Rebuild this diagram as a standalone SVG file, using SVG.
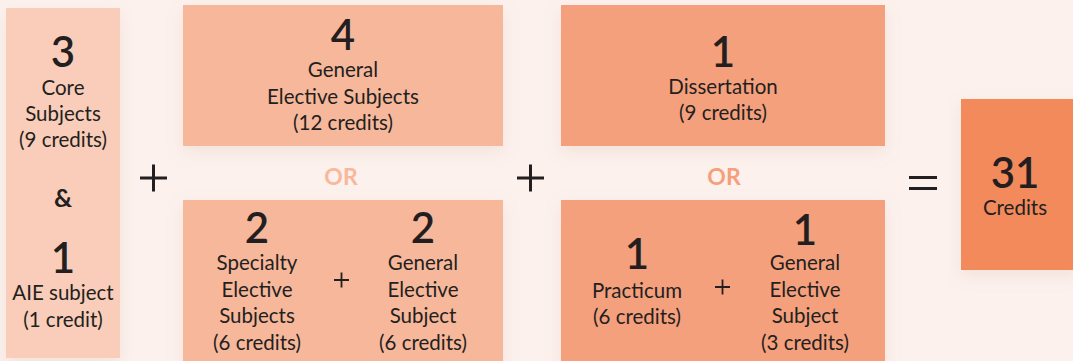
<svg xmlns="http://www.w3.org/2000/svg" width="1073" height="361" viewBox="0 0 1073 361">
<defs>
<filter id="sh" x="-10%" y="-10%" width="120%" height="130%">
<feDropShadow dx="0" dy="6" stdDeviation="8" flood-color="#c89a88" flood-opacity="0.18"/>
</filter>
</defs>
<style>
.t{font-family:Lato,"Noto Sans","Liberation Sans",sans-serif;font-size:20.5px;fill:#231f20;text-anchor:middle}
.n{font-family:Lato,"Noto Sans","Liberation Sans",sans-serif;font-size:42px;font-weight:600;fill:#231f20;text-anchor:middle}
.amp{font-family:Lato,"Noto Sans","Liberation Sans",sans-serif;font-size:25px;font-weight:700;fill:#231f20;text-anchor:middle}
.or{font-family:Lato,"Noto Sans","Liberation Sans",sans-serif;font-size:23px;font-weight:700;text-anchor:middle}
.op{stroke:#231f20;stroke-width:3;fill:none}
.ops{stroke:#231f20;stroke-width:1.8;fill:none}
</style>
<rect width="1073" height="361" fill="#fcf1ed"/>
<g id="core">
<rect x="6" y="8" width="114" height="350" fill="#f9cdb9" filter="url(#sh)"/>
<text class="n" x="63" y="67">3</text>
<text class="t" x="63" y="95">Core</text>
<text class="t" x="63" y="121">Subjects</text>
<text class="t" x="63" y="147">(9 credits)</text>
<text class="amp" x="63" y="207">&amp;</text>
<text class="n" x="63" y="273">1</text>
<text class="t" x="63" y="300">AIE subject</text>
<text class="t" x="63" y="327">(1 credit)</text>
</g>
<g id="elective-a">
<rect x="183" y="5" width="320" height="141" fill="#f7b79b" filter="url(#sh)"/>
<text class="n" x="343" y="50">4</text>
<text class="t" x="343" y="77">General</text>
<text class="t" x="343" y="104">Elective Subjects</text>
<text class="t" x="343" y="130">(12 credits)</text>
</g>
<text id="or1" class="or" x="341" y="185" fill="#f9b89c">OR</text>
<g id="elective-b">
<rect x="183" y="200" width="320" height="170" fill="#f7b79b" filter="url(#sh)"/>
<text class="n" x="257" y="243">2</text>
<text class="t" x="257" y="270">Specialty</text>
<text class="t" x="257" y="297">Elective</text>
<text class="t" x="257" y="323">Subjects</text>
<text class="t" x="257" y="350">(6 credits)</text>
<path class="ops" d="M334 280h15M341.5 272.5v15"/>
<text class="n" x="423" y="243">2</text>
<text class="t" x="423" y="270">General</text>
<text class="t" x="423" y="297">Elective</text>
<text class="t" x="423" y="323">Subject</text>
<text class="t" x="423" y="350">(6 credits)</text>
</g>
<g id="diss-a">
<rect x="561" y="5" width="324" height="141" fill="#f5a07d" filter="url(#sh)"/>
<text class="n" x="723" y="67">1</text>
<text class="t" x="723" y="94">Dissertation</text>
<text class="t" x="723" y="120">(9 credits)</text>
</g>
<text id="or2" class="or" x="724" y="185" fill="#f5a07d">OR</text>
<g id="diss-b">
<rect x="561" y="200" width="324" height="170" fill="#f5a07d" filter="url(#sh)"/>
<text class="n" x="637" y="269">1</text>
<text class="t" x="637" y="298">Practicum</text>
<text class="t" x="637" y="324">(6 credits)</text>
<path class="ops" d="M715 287h15M722.5 279.5v15"/>
<text class="n" x="805" y="245">1</text>
<text class="t" x="805" y="270">General</text>
<text class="t" x="805" y="297">Elective</text>
<text class="t" x="805" y="323">Subject</text>
<text class="t" x="805" y="350">(3 credits)</text>
</g>
<g id="total">
<rect x="961" y="99" width="120" height="171" fill="#f38a5c" filter="url(#sh)"/>
<text class="n" x="1015" y="188">31</text>
<text class="t" x="1015" y="215">Credits</text>
</g>
<g id="operators">
<path class="op" d="M140 178h27M153.5 164.5v27"/>
<path class="op" d="M517 178h27M530.5 164.5v27"/>
<path class="op" d="M909 177.5h28M909 188.5h28"/>
</g>
</svg>
